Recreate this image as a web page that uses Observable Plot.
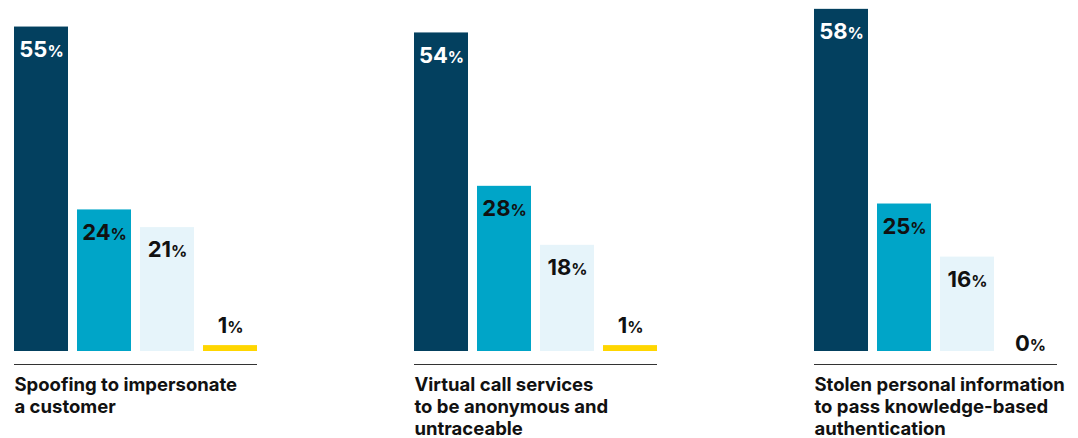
<!DOCTYPE html>
<html>
<head>
<meta charset="utf-8">
<script src="https://cdn.jsdelivr.net/npm/d3@7"></script>
<script src="https://cdn.jsdelivr.net/npm/@observablehq/plot@0.6"></script>
<style>
  html, body { margin: 0; padding: 0; background: #ffffff; }
  #chart svg { display: block; }
</style>
</head>
<body>
<div id="chart"></div>
<script>
const groups = [
  "Spoofing to impersonate a customer",
  "Virtual call services to be anonymous and untraceable",
  "Stolen personal information to pass knowledge-based authentication"
];
const groupLabels = [
  "Spoofing to impersonate\na customer",
  "Virtual call services\nto be anonymous and\nuntraceable",
  "Stolen personal information\nto pass knowledge-based\nauthentication"
];
const series = ["Series 1", "Series 2", "Series 3", "Series 4"];
const spoofingValues = [55, 24, 21, 1];
const virtualCallValues = [54, 28, 18, 1];
const stolenInfoValues = [58, 25, 16, 0];
const seriesColors = ["#03405f", "#00a5c8", "#e6f4fa", "#ffd600"];
const labelColors = ["#ffffff", "#111111", "#111111", "#111111"];

const valuesByGroup = [spoofingValues, virtualCallValues, stolenInfoValues];
const data = groups.flatMap((g, gi) =>
  series.map((s, si) => ({group: g, series: s, value: valuesByGroup[gi][si], label: labelColors[si]}))
);

function smallPercent(index, scales, values, dimensions, context, next) {
  const g = next(index, scales, values, dimensions, context);
  g.querySelectorAll("text").forEach(t => {
    const s = t.textContent;
    if (s.endsWith("%")) {
      t.textContent = s.slice(0, -1);
      const ts = document.createElementNS("http://www.w3.org/2000/svg", "tspan");
      ts.setAttribute("font-size", "16");
      ts.textContent = "%";
      t.appendChild(ts);
    }
  });
  return g;
}

const chart = Plot.plot({
  width: 1078,
  height: 438,
  marginLeft: 13,
  marginRight: 21,
  marginTop: 0,
  marginBottom: 87,
  style: {fontFamily: "Inter, 'Noto Sans', sans-serif", background: "#ffffff"},
  fx: {domain: groups, paddingInner: 0.3925, paddingOuter: 0, axis: null, label: null},
  x: {domain: series, paddingInner: 1 / 7, paddingOuter: 0, axis: null},
  y: {domain: [0, 59.5], axis: null},
  color: {domain: series, range: seriesColors},
  marks: [
    Plot.barY(data, {fx: "group", x: "series", y: "value", fill: "series"}),
    Plot.ruleY([0], {dy: 13, stroke: "#333333", strokeWidth: 1.2}),
    Plot.text(data.filter(d => d.value >= 5), {
      fx: "group", x: "series", y: "value", text: d => `${d.value}%`,
      fill: "label", fontSize: 22, fontWeight: 700, lineAnchor: "top", dy: 14,
      render: smallPercent
    }),
    Plot.text(data.filter(d => d.value > 0 && d.value < 5), {
      fx: "group", x: "series", y: "value", text: d => `${d.value}%`,
      fill: "#111111", fontSize: 22, fontWeight: 700, lineAnchor: "bottom", dy: -13,
      render: smallPercent
    }),
    Plot.text(data.filter(d => d.value === 0), {
      fx: "group", x: "series", y: "value", text: d => `${d.value}%`,
      fill: "#111111", fontSize: 22, fontWeight: 700, lineAnchor: "bottom", dy: -1,
      render: smallPercent
    }),
    Plot.text(groups, {
      fx: d => d, text: (d, i) => groupLabels[i],
      frameAnchor: "bottom-left", textAnchor: "start", lineAnchor: "top",
      dy: 23.5, fontSize: 18.5, fontWeight: 700, lineHeight: 1.2, fill: "#111111"
    })
  ]
});
document.getElementById("chart").appendChild(chart);
</script>
</body>
</html>
